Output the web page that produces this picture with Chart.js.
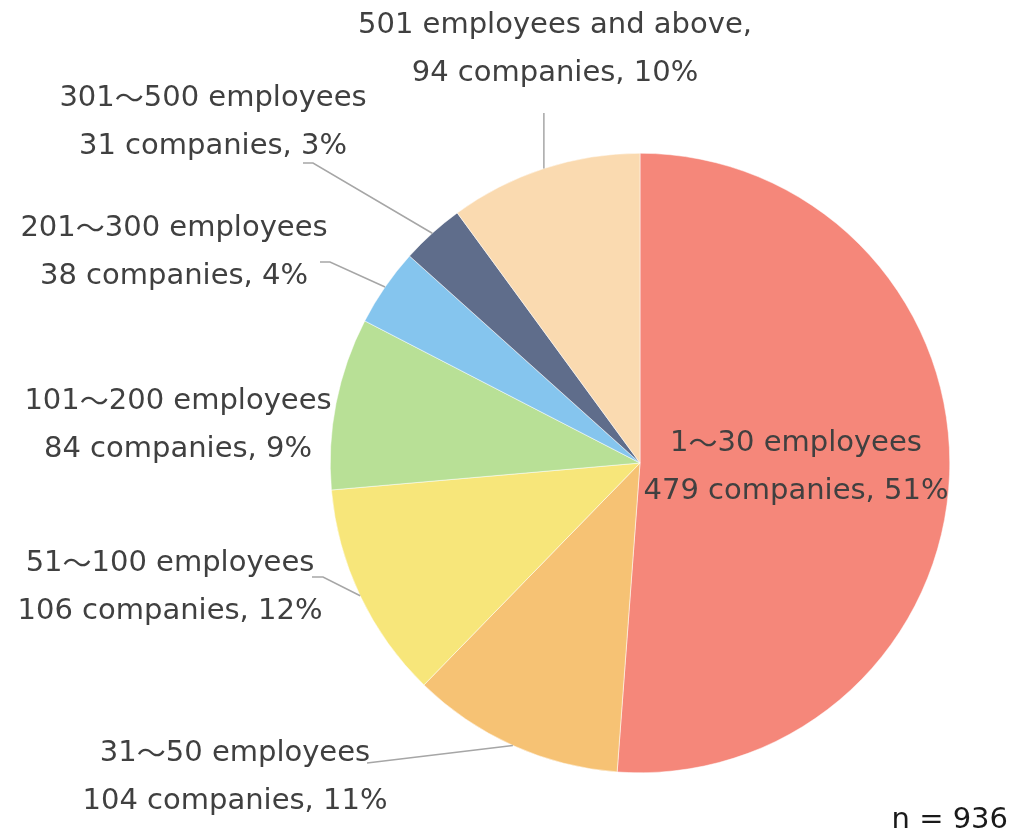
<!DOCTYPE html>
<html>
<head>
<meta charset="utf-8">
<script src="https://cdn.jsdelivr.net/npm/chart.js@4.4.1/dist/chart.umd.min.js"></script>
<style>
  html, body { margin: 0; padding: 0; background: #fff; }
  #wrap { width: 1036px; height: 835px; position: relative; }
</style>
</head>
<body>
<div id="wrap"><canvas id="pieChart"></canvas></div>
<script>
const categories = ['1～30 employees', '31～50 employees', '51～100 employees', '101～200 employees',
    '201～300 employees', '301～500 employees', '501 employees and above,'];
const companies = [479, 104, 106, 84, 38, 31, 94];
const percents = [51, 11, 12, 9, 4, 3, 10];
const sampleSize = 936;

const colors = ['#F5877A', '#F6C274', '#F7E67A', '#B8E096', '#85C5EE', '#5F6D8B', '#FADAB0'];

// where each label sits (center x, first line y) and the elbow of its leader line
const labelSpots = [
    { x: 796, y: 443, line: null },
    { x: 235, y: 753, line: { ex: 367, ey: 763 } },
    { x: 170, y: 563, line: { ex: 323, ey: 577, tx: 312 } },
    { x: 178, y: 401, line: null },
    { x: 174, y: 228, line: { ex: 330, ey: 262, tx: 320 } },
    { x: 213, y: 98, line: { ex: 313, ey: 163, tx: 303 } },
    { x: 555, y: 25, line: { ex: 543, ey: 113, vertical: true } }
];

const SIZE = 29;
const LATIN = SIZE + 'px "DejaVu Sans", Verdana, sans-serif';
const WAVE = SIZE + 'px "Noto Sans CJK JP", sans-serif';

// draw text centered at x, using the CJK font only for the wave dash
function drawMixed(ctx, text, x, y) {
    const parts = text.split(/(～)/).filter(p => p.length);
    const widths = parts.map(p => {
        ctx.font = p === '～' ? WAVE : LATIN;
        return ctx.measureText(p).width;
    });
    let cx = x - widths.reduce((a, b) => a + b, 0) / 2;
    ctx.textAlign = 'left';
    parts.forEach((p, k) => {
        ctx.font = p === '～' ? WAVE : LATIN;
        ctx.fillText(p, cx, y);
        cx += widths[k];
    });
}

const labelPlugin = {
    id: 'sliceLabels',
    afterDatasetsDraw(chart) {
        const ctx = chart.ctx;
        const meta = chart.getDatasetMeta(0);
        ctx.save();
        meta.data.forEach((arc, i) => {
            const spot = labelSpots[i];
            if (spot.line) {
                const mid = (arc.startAngle + arc.endAngle) / 2;
                const px = arc.x + Math.cos(mid) * arc.outerRadius;
                const py = arc.y + Math.sin(mid) * arc.outerRadius;
                ctx.strokeStyle = '#A6A6A6';
                ctx.lineWidth = 1.5;
                ctx.beginPath();
                ctx.moveTo(px, py);
                if (spot.line.vertical) {
                    ctx.lineTo(px, spot.line.ey);
                } else {
                    ctx.lineTo(spot.line.ex, spot.line.ey);
                    if (spot.line.tx) ctx.lineTo(spot.line.tx, spot.line.ey);
                }
                ctx.stroke();
            }
            ctx.fillStyle = '#404040';
            ctx.textBaseline = 'middle';
            drawMixed(ctx, categories[i], spot.x, spot.y);
            drawMixed(ctx, companies[i] + ' companies, ' + percents[i] + '%', spot.x, spot.y + 48);
        });
        ctx.font = LATIN;
        ctx.fillStyle = '#1a1a1a';
        ctx.textAlign = 'right';
        ctx.fillText('n = ' + sampleSize, 1008, 820);
        ctx.restore();
    }
};

new Chart(document.getElementById('pieChart'), {
    type: 'pie',
    data: {
        labels: categories,
        datasets: [{
            data: companies,
            backgroundColor: colors,
            borderColor: '#ffffff',
            borderWidth: 0.5
        }]
    },
    options: {
        responsive: true,
        maintainAspectRatio: false,
        animation: false,
        layout: { padding: { left: 330, right: 86, top: 153, bottom: 62 } },
        plugins: {
            legend: { display: false },
            tooltip: { enabled: false }
        }
    },
    plugins: [labelPlugin]
});
</script>
</body>
</html>
